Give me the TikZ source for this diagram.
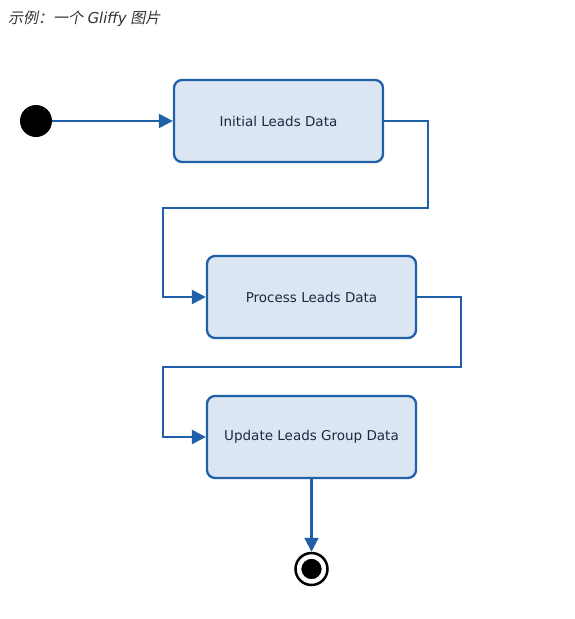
\documentclass[tikz,border=0pt]{standalone}
\usepackage{fontspec}
\setmainfont{DejaVu Sans}
\newfontfamily\cjk[FakeSlant=0.2]{Noto Sans CJK SC}
\newfontfamily\titlelat[FakeSlant=0.2]{DejaVu Sans}
\usetikzlibrary{arrows.meta}
\definecolor{lineblue}{HTML}{2060A8}
\definecolor{boxfill}{HTML}{DCE6F2}
\definecolor{txt}{HTML}{1A2A44}
\begin{document}
\begin{tikzpicture}[x=1pt,y=-1pt,
  statebox/.style={draw=lineblue,fill=boxfill,line width=2.3pt,rounded corners=8pt,minimum width=209pt,minimum height=82pt,inner sep=0pt,font=\fontsize{13.5}{15}\selectfont,text=txt},
  conn/.style={draw=lineblue,line width=2.3pt,-{Triangle[length=14pt,width=14pt]}}]
\useasboundingbox (0,0) rectangle (574,619);
\node[anchor=west,font=\fontsize{15}{17}\selectfont,text=black!80,inner sep=0pt] (title) at (8,19) {\cjk 示例：一个 \titlelat Gliffy \cjk 图片};
\node[circle,fill=black,minimum size=32pt,inner sep=0pt] (start) at (36,121) {};
\node[statebox] (b1) at (278.5,121) {Initial Leads Data};
\node[statebox] (b2) at (311.5,297) {Process Leads Data};
\node[statebox] (b3) at (311.5,437) {Update Leads Group Data};
\node[circle,fill=black,draw=white,line width=2.5pt,minimum size=23pt,inner sep=0pt] (endin) at (311.5,569) {};
\node[circle,draw=black,line width=2.5pt,minimum size=32pt,inner sep=0pt] (end) at (311.5,569) {};
\draw[conn] (start) -- (b1);
\draw[conn] (b1.east) -- ++(44,0) |- (295,208) -- (163,208) |- (b2.west);
\draw[conn] (b2.east) -- ++(44,0) |- (295,367) -- (163,367) |- (b3.west);
\draw[conn] (b3.south) -- (end.north);
\end{tikzpicture}
\end{document}
